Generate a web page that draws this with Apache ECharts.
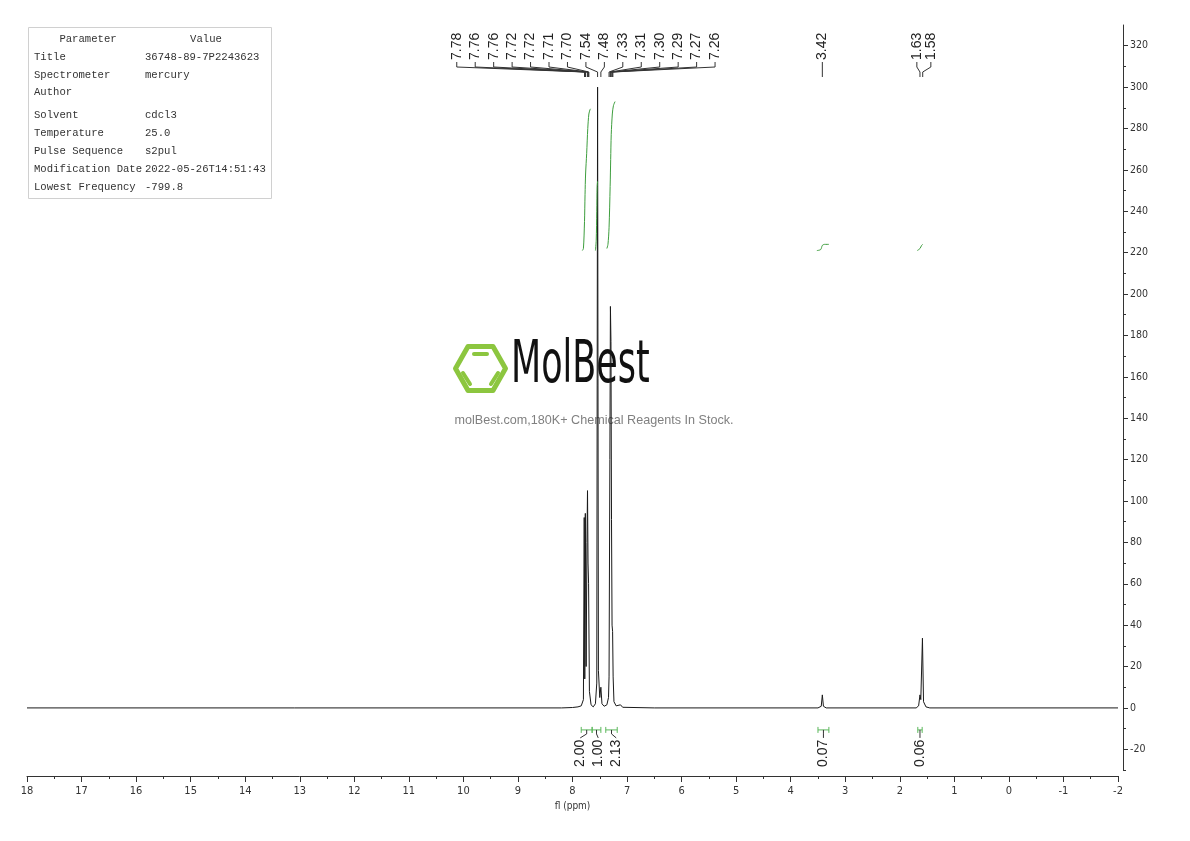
<!DOCTYPE html>
<html><head><meta charset="utf-8">
<script src="https://cdn.jsdelivr.net/npm/echarts@6/dist/echarts.min.js"></script>
<style>html,body{margin:0;padding:0;background:#fff}#c{width:1190px;height:841px}</style>
</head><body><div id="c"></div>
<script>
// ---------------- data ----------------
const spectrumPpm = [18.0, 8.20, 8.00, 7.90, 7.84, 7.80, 7.785, 7.775, 7.765, 7.75, 7.735, 7.725, 7.715, 7.705, 7.69, 7.66, 7.62, 7.58, 7.555, 7.54, 7.525, 7.50, 7.48, 7.46, 7.42, 7.37, 7.34, 7.33, 7.315, 7.305, 7.295, 7.285, 7.275, 7.265, 7.255, 7.24, 7.20, 7.12, 7.08, 6.50, 3.50, 3.44, 3.42, 3.40, 3.35, 1.70, 1.655, 1.63, 1.615, 1.585, 1.565, 1.52, 1.45, -2.0];
const spectrumIntensity = [0, 0, 0.2, 0.5, 1, 4, 92, 14, 94, 20, 80, 105, 70, 60, 8, 1.5, 0.5, 2, 12, 300, 18, 5, 10, 2, 0.8, 1.5, 5, 15, 120, 194, 177, 91, 40, 37, 15, 3, 1, 1.5, 0.3, 0, 0, 0.8, 6.3, 0.8, 0, 0, 1, 6.3, 4, 33.7, 3, 0.5, 0, 0];

const integralCurves = [
  {ppm: [7.82, 7.80, 7.78, 7.77, 7.76, 7.74, 7.72, 7.70, 7.68, 7.67], val: [221, 222, 235, 248, 258, 268, 280, 287, 289, 289.5]},
  {ppm: [7.58, 7.565, 7.555, 7.548, 7.54], val: [221, 226, 240, 252, 254.5]},
  {ppm: [7.37, 7.35, 7.33, 7.31, 7.30, 7.29, 7.27, 7.25, 7.22], val: [222, 224, 232, 252, 265, 277, 287, 291, 293]},
  {ppm: [3.52, 3.45, 3.42, 3.38, 3.30], val: [221, 221.5, 223.5, 224, 224]},
  {ppm: [1.68, 1.63, 1.60, 1.58], val: [221, 222, 223.5, 224]}
];

const integralRanges = [[7.84, 7.64], [7.64, 7.48], [7.39, 7.18], [3.50, 3.30], [1.67, 1.59]];
const integralValues = ['2.00', '1.00', '2.13', '0.07', '0.06'];

const peakLabelsAromatic = [7.78, 7.76, 7.76, 7.72, 7.72, 7.71, 7.70, 7.54, 7.48, 7.33, 7.31, 7.30, 7.29, 7.27, 7.26];
const peakLabelsMid = [3.42];
const peakLabelsAliphatic = [1.63, 1.58];

const yTickValues = [-20, 0, 20, 40, 60, 80, 100, 120, 140, 160, 180, 200, 220, 240, 260, 280, 300, 320];
const yMinorTickValues = [-30, -10, 10, 30, 50, 70, 90, 110, 130, 150, 170, 190, 210, 230, 250, 270, 290, 310];

const paramNames = ['Title', 'Spectrometer', 'Author', 'Solvent', 'Temperature', 'Pulse Sequence', 'Modification Date', 'Lowest Frequency'];
const paramValues = ['36748-89-7P2243623', 'mercury', '', 'cdcl3', '25.0', 's2pul', '2022-05-26T14:51:43', '-799.8'];

// ---------------- layout ----------------
const Y_MIN = -30, Y_MAX = 330;
const narrowFamily = "'DejaVu Sans', sans-serif";
const labelFont = "14px 'Liberation Sans', Arial, sans-serif";
const peakLabelGroups = [
  {values: peakLabelsAromatic, spacing: 18.45, shift: -12.3},
  {values: peakLabelsMid, spacing: 0, shift: 0},
  {values: peakLabelsAliphatic, spacing: 14, shift: 2.5}
];
const integralLabelGroups = [{idx: [0, 1, 2], spacing: 18}, {idx: [3], spacing: 0}, {idx: [4], spacing: 0}];
const tableRowsY = [57, 75, 92, 115, 133, 151, 169, 187];

// ---------------- build ----------------
const spectrum = spectrumPpm.map((p, i) => [p, spectrumIntensity[i]]);

function renderPeakLabels(params, api) {
  const children = [];
  const yTop = api.coord([0, Y_MAX])[1];
  peakLabelGroups.forEach(g => {
    const px = g.values.map(v => api.coord([v, 0])[0]);
    const mean = px.reduce((a, b) => a + b, 0) / px.length;
    const n = px.length;
    px.forEach((p, i) => {
      const lx = mean + g.shift + (i - (n - 1) / 2) * g.spacing;
      children.push({
        type: 'text', x: lx, y: yTop + 35, rotation: Math.PI / 2,
        style: {text: g.values[i].toFixed(2), font: labelFont, fill: '#222', align: 'left', verticalAlign: 'middle'}
      });
      children.push({
        type: 'polyline',
        shape: {points: [[lx, yTop + 37], [lx, yTop + 42], [p, yTop + 47], [p, yTop + 52]]},
        style: {stroke: '#333', lineWidth: 1, fill: null}
      });
    });
  });
  return {type: 'group', children};
}

function renderIntegrals(params, api) {
  const children = [];
  const y0 = api.coord([0, 0])[1];
  const by = y0 + 22;
  integralLabelGroups.forEach(g => {
    const centers = g.idx.map(k => {
      const x1 = api.coord([integralRanges[k][0], 0])[0];
      const x2 = api.coord([integralRanges[k][1], 0])[0];
      children.push({type: 'polyline', shape: {points: [[x1, by - 3], [x1, by + 3]]}, style: {stroke: '#5cb85c', lineWidth: 1, fill: null}});
      children.push({type: 'polyline', shape: {points: [[x2, by - 3], [x2, by + 3]]}, style: {stroke: '#5cb85c', lineWidth: 1, fill: null}});
      children.push({type: 'polyline', shape: {points: [[x1, by], [x2, by]]}, style: {stroke: '#5cb85c', lineWidth: 1, fill: null}});
      return (x1 + x2) / 2;
    });
    const mean = centers.reduce((a, b) => a + b, 0) / centers.length;
    const n = centers.length;
    centers.forEach((c, i) => {
      const lx = mean + (i - (n - 1) / 2) * g.spacing;
      children.push({type: 'polyline', shape: {points: [[c, by], [c, by + 4], [lx, by + 8]]}, style: {stroke: '#333', lineWidth: 1, fill: null}});
      children.push({
        type: 'text', x: lx, y: by + 37, rotation: Math.PI / 2,
        style: {text: integralValues[g.idx[i]], font: labelFont, fill: '#222', align: 'left', verticalAlign: 'middle'}
      });
    });
  });
  return {type: 'group', children};
}

const series = [
  {
    type: 'line', data: spectrum, showSymbol: false, xAxisIndex: 0, yAxisIndex: 0,
    lineStyle: {color: '#1a1a1a', width: 1}, z: 3, silent: true, clip: true
  }
];
integralCurves.forEach(c => {
  series.push({
    type: 'line', data: c.ppm.map((p, i) => [p, c.val[i]]), showSymbol: false,
    lineStyle: {color: '#3e9e3e', width: 1}, z: 4, silent: true, smooth: 0.3
  });
});
series.push({type: 'custom', renderItem: renderPeakLabels, data: [[0, 0]], z: 5, silent: true});
series.push({type: 'custom', renderItem: renderIntegrals, data: [[0, 0]], z: 5, silent: true});

const graphic = [];
// table
graphic.push({type: 'rect', shape: {x: 28.5, y: 27.5, width: 243, height: 171}, style: {fill: '#fff', stroke: '#d0d0d0', lineWidth: 1}, z: 10});
const monoFont = "10.6px 'Liberation Mono', 'DejaVu Sans Mono', monospace";
graphic.push({type: 'text', x: 88, y: 39, style: {text: 'Parameter', font: monoFont, fill: '#333', align: 'center', verticalAlign: 'middle'}, z: 11});
graphic.push({type: 'text', x: 206, y: 39, style: {text: 'Value', font: monoFont, fill: '#333', align: 'center', verticalAlign: 'middle'}, z: 11});
paramNames.forEach((n, i) => {
  graphic.push({type: 'text', x: 34, y: tableRowsY[i], style: {text: n, font: monoFont, fill: '#333', align: 'left', verticalAlign: 'middle'}, z: 11});
  graphic.push({type: 'text', x: 145, y: tableRowsY[i], style: {text: paramValues[i], font: monoFont, fill: '#333', align: 'left', verticalAlign: 'middle'}, z: 11});
});
// watermark
const green = '#8cc63f';
graphic.push({type: 'polygon', shape: {points: [[455.5, 368.5], [468, 346.5], [493, 346.5], [505.5, 368.5], [493, 390.5], [468, 390.5]]}, style: {fill: 'none', stroke: green, lineWidth: 5, lineJoin: 'round'}, z: 0});
graphic.push({type: 'line', shape: {x1: 474, y1: 354, x2: 487, y2: 354}, style: {stroke: green, lineWidth: 4, lineCap: 'round'}, z: 0});
graphic.push({type: 'line', shape: {x1: 463, y1: 373, x2: 470, y2: 384}, style: {stroke: green, lineWidth: 4, lineCap: 'round'}, z: 0});
graphic.push({type: 'line', shape: {x1: 498, y1: 373, x2: 491, y2: 384}, style: {stroke: green, lineWidth: 4, lineCap: 'round'}, z: 0});
graphic.push({type: 'text', x: 511, y: 396, scaleX: 0.67, style: {text: 'MolBest', font: "condensed 58px 'DejaVu Sans', sans-serif", fill: '#111', align: 'left', verticalAlign: 'bottom'}, z: 0});
graphic.push({type: 'text', x: 594, y: 421, style: {text: 'molBest.com,180K+ Chemical Reagents In Stock.', font: "12.6px 'Liberation Sans', Arial, sans-serif", fill: '#808080', align: 'center', verticalAlign: 'middle'}, z: 0});

const option = {
  animation: false,
  backgroundColor: '#fff',
  grid: {left: 27, right: 72, top: 25, bottom: 71, containLabel: false},
  xAxis: {
    type: 'value', min: -2, max: 18, interval: 1, inverse: true, position: 'bottom', offset: 6,
    name: 'fl (ppm)', nameLocation: 'middle', nameGap: 24,
    nameTextStyle: {fontFamily: narrowFamily, fontStyle: 'condensed', fontSize: 10, color: '#333'},
    axisLine: {show: true, onZero: false, lineStyle: {color: '#333', width: 1}},
    axisTick: {show: true, length: 6, lineStyle: {color: '#333'}},
    minorTick: {show: true, splitNumber: 2, length: 3, lineStyle: {color: '#333'}},
    axisLabel: {fontFamily: narrowFamily, fontStyle: 'condensed', fontSize: 11, color: '#333', margin: 10},
    splitLine: {show: false}
  },
  yAxis: [
    {
      type: 'value', min: Y_MIN, max: Y_MAX, position: 'right', offset: 5,
      axisLine: {show: true, onZero: false, lineStyle: {color: '#333', width: 1}},
      axisTick: {show: true, length: 5, customValues: yTickValues, lineStyle: {color: '#333'}},
      axisLabel: {show: true, customValues: yTickValues, fontFamily: narrowFamily, fontStyle: 'condensed', fontSize: 10.5, color: '#333', margin: 7},
      splitLine: {show: false}
    },
    {
      type: 'value', min: Y_MIN, max: Y_MAX, position: 'right', offset: 5,
      axisLine: {show: false, onZero: false},
      axisTick: {show: true, length: 3, customValues: yMinorTickValues, lineStyle: {color: '#333'}},
      axisLabel: {show: false},
      splitLine: {show: false}
    }
  ],
  series,
  graphic
};

const chart = echarts.init(document.getElementById('c'), null, {renderer: 'canvas'});
chart.setOption(option);
</script>
</body></html>
